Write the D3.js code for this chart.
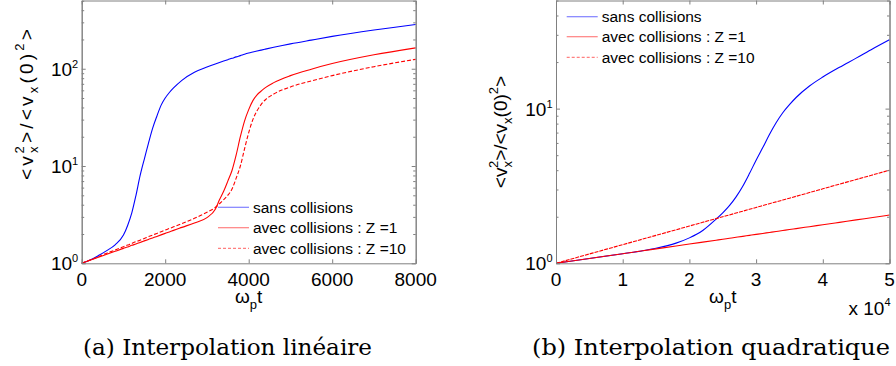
<!DOCTYPE html>
<html><head><meta charset="utf-8">
<script src="https://cdn.jsdelivr.net/npm/d3@7"></script>
<style>body{margin:0;background:#fff} svg{display:block}</style>
</head><body>
<script>
// ---------- data : panel (a) ----------
const tLeft   = [0,200,400,600,800,1000,1100,1200,1300,1400,1450,1500,1600,1700,1800,1900,2000,2100,2200,2400,2700,3000,3200,3300,3400,3500,3600,3700,3800,3900,4000,4100,4200,4300,4400,4600,5000,5500,6000,7000,8000];
const sansLeft= [1,1.08,1.2,1.35,1.55,1.95,2.45,3.3,5.0,8.0,9.8,11.8,17.2,24.5,32.5,42,50,57,63.5,76,92,104,112,116,120,124,128,132.5,136.5,141,145,148.5,152,155.5,159,166,180,197,215,250,285];
const z1Left  = [1,1.073,1.152,1.236,1.327,1.424,1.47,1.53,1.58,1.64,1.67,1.70,1.76,1.82,1.89,1.96,2.03,2.1,2.18,2.34,2.6,2.95,3.6,4.5,5.5,7.0,9.0,13,20,29,38,47,54,59,64,72,85,99,113,139,164];
const z10Left = [1,1.08,1.17,1.27,1.37,1.48,1.54,1.6,1.67,1.73,1.77,1.8,1.88,1.95,2.03,2.11,2.2,2.28,2.37,2.56,2.9,3.35,3.75,4.1,4.5,5.0,5.8,7.5,10,15,22,30,37,43,48,55,65,75,85,105,125];
const xTicksLeft = [0,2000,4000,6000,8000];
const yTicksLeft = [1,10,100];

// ---------- data : panel (b) ----------
const tRight   = [0,5000,10000,13000,15000,18000,20000,22000,24000,25000,26000,27000,28000,29000,30000,31000,32000,33000,34000,35000,36000,38000,40000,42500,45000,47500,50000];
const sansRight= [1,1.074,1.154,1.205,1.25,1.35,1.46,1.63,1.93,2.12,2.36,2.69,3.15,3.8,4.64,5.6,6.8,8.1,9.4,10.6,11.8,14.0,16.0,18.5,21.2,24.4,27.9];
const z1Right  = [1,1.074,1.154,1.205,1.240,1.295,1.332,1.371,1.411,1.431,1.452,1.473,1.494,1.516,1.538,1.560,1.583,1.606,1.629,1.652,1.676,1.725,1.775,1.840,1.908,1.977,2.050];
const z10Right = [1,1.149,1.32,1.434,1.516,1.647,1.741,1.840,1.945,2.0,2.055,2.113,2.172,2.233,2.297,2.361,2.427,2.495,2.565,2.637,2.711,2.865,3.03,3.25,3.48,3.73,4.0];
const xTicksRight = [0,10000,20000,30000,40000,50000];
const yTicksRight = [1,10];

const legendLabels = ["sans collisions","avec collisions : Z =1","avec collisions : Z =10"];
const captions = ["(a) Interpolation linéaire","(b) Interpolation quadratique"];

const W = 896, H = 366;
const svg = d3.select("body").append("svg").attr("width",W).attr("height",H)
  .style("font-family","'Liberation Sans', Arial, Helvetica, sans-serif");

const axisColor = "#808080";

function panel(o){
  const x = d3.scaleLinear().domain(o.xDomain).range([o.left,o.right]);
  const y = d3.scaleLog().domain(o.yDomain).range([o.bottom,o.top]);
  const g = svg.append("g");

  const line = (ys)=> d3.line().x((d,i)=>x(o.t[i])).y(d=>y(d)).curve(d3.curveMonotoneX)(ys);
  const series = [
    {v:o.sans, c:"#0000ff", dash:null},
    {v:o.z1,   c:"#ff0000", dash:null},
    {v:o.z10,  c:"#ff0000", dash:o.dash}
  ];
  series.forEach(s=>{
    g.append("path").attr("d",line(s.v)).attr("fill","none")
     .attr("stroke",s.c).attr("stroke-width",1.1)
     .attr("stroke-dasharray",s.dash);
  });

  const minor = y.ticks().filter(v=>!o.yTicks.includes(v));
  const ax = (gen)=> g.append("g").call(gen).call(s=>{
      s.selectAll("path").attr("stroke",axisColor);
      s.selectAll("line").attr("stroke",axisColor);
      s.selectAll("text").remove();
  });
  ax(d3.axisBottom(x).tickValues(o.xTicks).tickSizeInner(-4).tickSizeOuter(0))
    .attr("transform",`translate(0,${o.bottom})`);
  ax(d3.axisTop(x).tickValues(o.xTicks).tickSizeInner(-4).tickSizeOuter(0))
    .attr("transform",`translate(0,${o.top})`);
  ax(d3.axisLeft(y).tickValues(o.yTicks).tickSizeInner(-4).tickSizeOuter(0))
    .attr("transform",`translate(${o.left},0)`);
  ax(d3.axisRight(y).tickValues(o.yTicks).tickSizeInner(-4).tickSizeOuter(0))
    .attr("transform",`translate(${o.right},0)`);
  ax(d3.axisLeft(y).tickValues(minor).tickSizeInner(-2.5).tickSizeOuter(0))
    .attr("transform",`translate(${o.left},0)`);
  ax(d3.axisRight(y).tickValues(minor).tickSizeInner(-2.5).tickSizeOuter(0))
    .attr("transform",`translate(${o.right},0)`);

  o.xTicks.forEach(v=>{
    g.append("text").attr("x",x(v)).attr("y",o.bottom+22.5).attr("text-anchor","middle")
     .attr("font-size",19).attr("fill","#000").text(o.xFmt(v));
  });
  o.yTicks.forEach(v=>{
    const t = g.append("text").attr("x",o.left-3.5).attr("y",y(v)+7).attr("text-anchor","end")
      .attr("font-size",19).attr("fill","#000");
    t.append("tspan").text("10");
    t.append("tspan").attr("font-size",11).attr("dy",-8).text(Math.round(Math.log10(v)));
  });

  const xl = g.append("text").attr("x",(o.left+o.right)/2).attr("y",o.bottom+40).attr("text-anchor","middle")
     .attr("font-size",19).attr("fill","#000");
  xl.append("tspan").text("ω");
  xl.append("tspan").attr("font-size",13).attr("dy",6).text("p");
  xl.append("tspan").attr("dy",-6).text("t");

  const yl = g.append("text").attr("transform",`translate(${o.ylX},${o.ylY}) rotate(-90)`)
     .attr("text-anchor","middle").attr("font-size",19).attr("fill","#000")
     .attr("letter-spacing",o.ylLS);
  yl.append("tspan").text("<v");
  yl.append("tspan").attr("font-size",13).attr("dy",5).text("x");
  yl.append("tspan").attr("font-size",13).attr("dx",-7-o.ylLS).attr("dy",-14).text("2");
  yl.append("tspan").attr("dy",9).text(">/<v");
  yl.append("tspan").attr("font-size",13).attr("dy",5).text("x");
  yl.append("tspan").attr("dy",-5).text("(0)");
  yl.append("tspan").attr("font-size",13).attr("dy",-9).text("2");
  yl.append("tspan").attr("dy",9).text(">");

  if(o.xExp){
    const e = g.append("text").attr("x",o.right+1).attr("y",o.bottom+52).attr("text-anchor","end")
      .attr("font-size",19).attr("fill","#000");
    e.append("tspan").text("x 10");
    e.append("tspan").attr("font-size",11).attr("dy",-9).text("4");
  }

  const lc = ["#8080ff","#ff8080","#ff8080"];
  legendLabels.forEach((lab,i)=>{
    const yy = o.legY[i];
    g.append("line").attr("x1",o.legX).attr("x2",o.legX+31).attr("y1",yy).attr("y2",yy)
     .attr("stroke",lc[i]).attr("stroke-width",1.2).attr("stroke-dasharray",i===2?"3,2":null);
    g.append("text").attr("x",o.legX+35).attr("y",yy+5.5).attr("font-size",15.5).attr("fill","#000").text(lab);
  });

  g.append("text").attr("x",o.capX).attr("y",355).attr("text-anchor","start")
    .attr("font-family","'DejaVu Serif Condensed','DejaVu Serif',serif").attr("font-size",23)
    .attr("textLength",o.capW).attr("lengthAdjust","spacingAndGlyphs").attr("fill","#000").text(o.caption);
}

panel({
  t:tLeft, sans:sansLeft, z1:z1Left, z10:z10Left, dash:"4,2",
  xDomain:[0,8000], yDomain:[1,503], left:81.7, right:415.7, top:0.5, bottom:263.3,
  xTicks:xTicksLeft, yTicks:yTicksLeft, xFmt:d=>String(d),
  ylX:33, ylY:103, ylLS:3.2, legX:218, legY:[207.3,227.7,248.3],
  xExp:false, caption:captions[0], capX:83, capW:289
});
panel({
  t:tRight, sans:sansRight, z1:z1Right, z10:z10Right, dash:"4,1",
  xDomain:[0,50000], yDomain:[1,50], left:556, right:889.5, top:0.5, bottom:263.3,
  xTicks:xTicksRight, yTicks:yTicksRight, xFmt:d=>String(d/10000),
  ylX:507, ylY:132, ylLS:0, legX:566.7, legY:[16.7,36.7,57.3],
  xExp:true, caption:captions[1], capX:532, capW:358
});
</script>
</body></html>
